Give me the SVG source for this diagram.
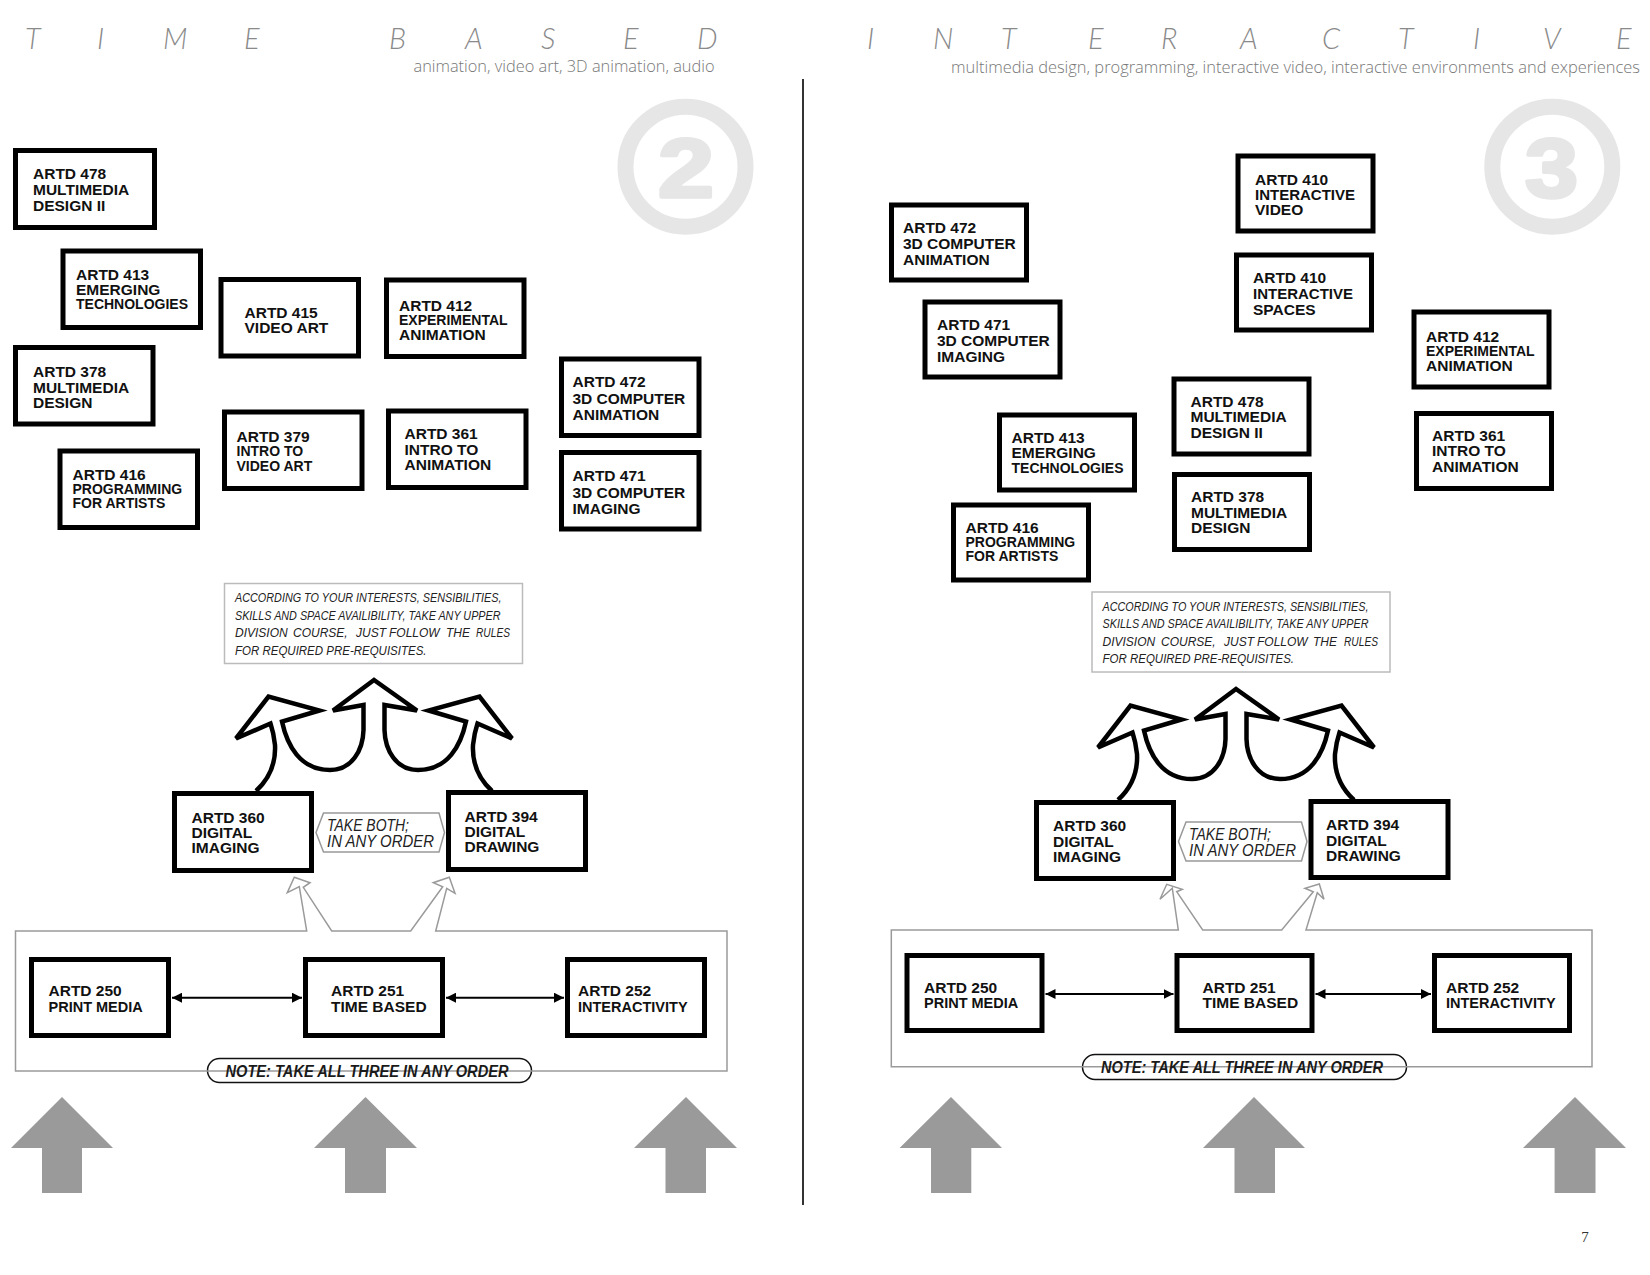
<svg xmlns="http://www.w3.org/2000/svg" width="1650" height="1275" viewBox="0 0 1650 1275">
<style>
.bx{fill:#fff;stroke:#000;stroke-width:5}
.bt{font-family:"Liberation Sans",Arial,sans-serif;font-weight:bold;font-size:15.5px;fill:#111}
.sm{font-size:14px}
.md{font-size:14.5px}
.ttl{font-family:Lato,"Open Sans","Liberation Sans",sans-serif;font-weight:300;font-style:italic;font-size:29px;fill:#8a8a8a}
.sub{font-family:"Open Sans",Lato,"Liberation Sans",sans-serif;font-weight:300;font-size:16px;fill:#777}
.ring{fill:none;stroke:#e6e6e6;stroke-width:16}
.num{font-family:"Liberation Sans",Arial,sans-serif;font-weight:bold;font-size:84px;fill:#e6e6e6;stroke:#e6e6e6;stroke-width:3.5;stroke-linejoin:round}
.nb{fill:#fff;stroke:#bbb;stroke-width:1.5}
.nt{font-family:"Liberation Sans",Arial,sans-serif;font-style:italic;font-size:12px;fill:#222}
.hx{fill:#fff;stroke:#999;stroke-width:1.5}
.ht{font-family:"Liberation Sans",Arial,sans-serif;font-style:italic;font-size:17px;fill:#222}
.pl{fill:#fff;stroke:#111;stroke-width:1.5}
.pt{font-family:"Liberation Sans",Arial,sans-serif;font-style:italic;font-weight:bold;font-size:16px;fill:#1a1a1a}
.ct{fill:none;stroke:#9a9a9a;stroke-width:1.5}
.tree{fill:#fff;stroke:#000;stroke-width:4.5;stroke-linejoin:miter}
.dbl{stroke:#000;stroke-width:2;marker-start:url(#ah);marker-end:url(#ah)}
.ga{fill:#9a9a9a}
</style>
<defs>
<marker id="ah" viewBox="0 0 10 10" refX="10" refY="5" markerWidth="10" markerHeight="10" markerUnits="userSpaceOnUse" orient="auto-start-reverse">
<path d="M0,0 L10,5 L0,10 Z" fill="#000"/>
</marker>
<path id="treeShape" d="M256,791 C268,780 276,765 275,745 C274,735 272,728 270.5,723.5 L236,738.5 L268.5,696.5 L319.5,710.5 L282,721.5 C287,745 300,770 330,770 C352,770 363,750 363.5,730 L363.5,705 L333,710.5 L374,680 L417,710.5 L384.5,705 L384.5,730 C385,750 396,770 418,770 C448,770 461,745 466,721.5 L428.5,710.5 L479.5,696.5 L512,738.5 L477.5,723.5 C476,728 474,735 473,745 C472,765 480,780 492,791"/>
</defs>
<rect width="1650" height="1275" fill="#fff"/>

<g id="headers">
<text class="ttl" x="25 60 97 130 163 205 244 316 389 427 465 503 541 582 623 660 697" y="48.5">T I M E B A S E D</text>
<text class="sub" x="413.5" y="72" textLength="301" lengthAdjust="spacingAndGlyphs">animation, video art, 3D animation, audio</text>
<text class="ttl" x="867 900 933 967 1001 1045 1088 1125 1161 1200 1240 1280 1322 1360 1398 1435 1473 1508 1543 1580 1616" y="48.5">I N T E R A C T I V E</text>
<text class="sub" x="951" y="73" textLength="689" lengthAdjust="spacingAndGlyphs">multimedia design, programming, interactive video, interactive environments and experiences</text>
<line x1="803" y1="79" x2="803" y2="1205" stroke="#333" stroke-width="2"/>
<circle class="ring" cx="685.5" cy="166.7" r="60"/>
<text class="num" x="658" y="196.7" textLength="56" lengthAdjust="spacingAndGlyphs">2</text>
<circle class="ring" cx="1552.3" cy="166.7" r="60"/>
<text class="num" x="1525" y="196.7" textLength="53" lengthAdjust="spacingAndGlyphs">3</text>
<text x="1585" y="1241.5" font-family="'Liberation Serif','Times New Roman',serif" font-size="15" fill="#333" text-anchor="middle">7</text>
</g>

<g id="connectors">
<use href="#treeShape" class="tree"/>
<use href="#treeShape" class="tree" transform="translate(862,9)"/>
<line class="dbl" x1="172" y1="997.7" x2="302" y2="997.7"/>
<line class="dbl" x1="446" y1="997.7" x2="564" y2="997.7"/>
<line class="dbl" x1="1045.5" y1="994" x2="1173.5" y2="994"/>
<line class="dbl" x1="1315.5" y1="994" x2="1431" y2="994"/>
<polygon class="ga" points="62,1097 113,1148 82,1148 82,1193 42,1193 42,1148 11,1148"/>
<polygon class="ga" points="365.5,1097 417,1148 386,1148 386,1193 345,1193 345,1148 314,1148"/>
<polygon class="ga" points="686,1097 737,1148 706,1148 706,1193 665.5,1193 665.5,1148 634,1148"/>
<polygon class="ga" points="951,1097 1002,1148 971.3,1148 971.3,1193 931,1193 931,1148 899.6,1148"/>
<polygon class="ga" points="1254,1097 1305,1148 1275,1148 1275,1193 1234.5,1193 1234.5,1148 1203,1148"/>
<polygon class="ga" points="1575,1097 1626,1148 1595.5,1148 1595.5,1193 1554.6,1193 1554.6,1148 1523,1148"/>
</g>

<g id="tb-note">
<rect class="nb" x="224.5" y="583.5" width="298" height="80"/>
<text class="nt"><tspan x="235" y="602" textLength="266.5" lengthAdjust="spacingAndGlyphs">ACCORDING TO YOUR INTERESTS, SENSIBILITIES,</tspan><tspan x="235" y="619.5" textLength="265.5" lengthAdjust="spacingAndGlyphs">SKILLS AND SPACE AVAILIBILITY, TAKE ANY UPPER</tspan><tspan x="235" y="637">DIVISION</tspan><tspan x="293" y="637">COURSE,</tspan><tspan x="356" y="637">JUST</tspan><tspan x="389" y="637">FOLLOW</tspan><tspan x="446" y="637">THE</tspan><tspan x="476" y="637" textLength="34" lengthAdjust="spacingAndGlyphs">RULES</tspan><tspan x="235" y="654.5" textLength="191.5" lengthAdjust="spacingAndGlyphs">FOR REQUIRED PRE-REQUISITES.</tspan></text>
</g>
<g id="ia-note">
<rect class="nb" x="1092" y="592" width="298" height="80"/>
<text class="nt"><tspan x="1102.5" y="610.5" textLength="266" lengthAdjust="spacingAndGlyphs">ACCORDING TO YOUR INTERESTS, SENSIBILITIES,</tspan><tspan x="1102.5" y="628" textLength="266" lengthAdjust="spacingAndGlyphs">SKILLS AND SPACE AVAILIBILITY, TAKE ANY UPPER</tspan><tspan x="1102.5" y="645.5">DIVISION</tspan><tspan x="1161" y="645.5">COURSE,</tspan><tspan x="1224" y="645.5">JUST</tspan><tspan x="1257" y="645.5">FOLLOW</tspan><tspan x="1313" y="645.5">THE</tspan><tspan x="1344" y="645.5" textLength="34" lengthAdjust="spacingAndGlyphs">RULES</tspan><tspan x="1102.5" y="663" textLength="191.5" lengthAdjust="spacingAndGlyphs">FOR REQUIRED PRE-REQUISITES.</tspan></text>
</g>

<g id="tb-foundation">
<rect class="pl" x="207.5" y="1058.5" width="324" height="24" rx="12"/>
<path class="ct" d="M15.5,931 L306.7,931 L299.3,886.7 L287.3,892.7 L294.3,877.3 L310,882.7 L303.3,887.3 L331.7,931 L410.7,931 L442.7,886.7 L433.3,882.7 L449.3,877.3 L455,893.3 L446.7,888.3 L435.7,931 L727,931 L727,1071 L15.5,1071 Z"/>
<text class="pt" x="225.5" y="1076.5" textLength="283" lengthAdjust="spacingAndGlyphs">NOTE: TAKE ALL THREE IN ANY ORDER</text>
</g>
<g id="ia-foundation">
<rect class="pl" x="1082.5" y="1054.5" width="324" height="25" rx="12.5"/>
<path class="ct" d="M891.3,930 L1178.3,930 L1172.3,888.3 L1160,899.3 L1166.7,884.3 L1182.3,889.3 L1176.7,891.7 L1202.7,930 L1281.7,930 L1313.3,891.7 L1305,888.3 L1319.3,884 L1324,899.3 L1317.3,892.7 L1306,930 L1592,930 L1592,1066.7 L891.3,1066.7 Z"/>
<text class="pt" x="1101" y="1073" textLength="282" lengthAdjust="spacingAndGlyphs">NOTE: TAKE ALL THREE IN ANY ORDER</text>
</g>

<g id="tb-takeboth">
<polygon class="hx" points="316,832.5 323.5,813 439,813 444.5,832.5 439,852 323.5,852"/>
<text class="ht"><tspan x="327" y="830.5" textLength="82" lengthAdjust="spacingAndGlyphs">TAKE BOTH;</tspan><tspan x="327" y="846.5" textLength="107" lengthAdjust="spacingAndGlyphs">IN ANY ORDER</tspan></text>
</g>
<g id="ia-takeboth">
<polygon class="hx" points="1178.5,841.5 1186,822 1301.5,822 1307,841.5 1301.5,861 1186,861"/>
<text class="ht"><tspan x="1189" y="839.5" textLength="82" lengthAdjust="spacingAndGlyphs">TAKE BOTH;</tspan><tspan x="1189" y="855.5" textLength="107" lengthAdjust="spacingAndGlyphs">IN ANY ORDER</tspan></text>
</g>

<!-- TIME BASED page nodes -->
<g id="tb-artd478"><rect class="bx" x="15.5" y="150.5" width="139" height="77"/><text class="bt"><tspan x="33" y="179">ARTD 478</tspan><tspan x="33" y="195">MULTIMEDIA</tspan><tspan x="33" y="211">DESIGN II</tspan></text></g>
<g id="tb-artd413"><rect class="bx" x="63" y="251" width="137.5" height="76.5"/><text class="bt"><tspan x="76" y="280">ARTD 413</tspan><tspan x="76" y="295">EMERGING</tspan><tspan class="sm" x="76" y="309">TECHNOLOGIES</tspan></text></g>
<g id="tb-artd415"><rect class="bx" x="221" y="279.5" width="137.5" height="76.5"/><text class="bt"><tspan x="244.5" y="317.5">ARTD 415</tspan><tspan x="244.5" y="332.5">VIDEO ART</tspan></text></g>
<g id="tb-artd412"><rect class="bx" x="386.5" y="280" width="137.5" height="76.5"/><text class="bt"><tspan x="399" y="311">ARTD 412</tspan><tspan class="sm" x="399" y="325">EXPERIMENTAL</tspan><tspan x="399" y="340">ANIMATION</tspan></text></g>
<g id="tb-artd378"><rect class="bx" x="15.5" y="347.5" width="137.5" height="76.5"/><text class="bt"><tspan x="33" y="376.5">ARTD 378</tspan><tspan x="33" y="392.5">MULTIMEDIA</tspan><tspan x="33" y="408">DESIGN</tspan></text></g>
<g id="tb-artd472"><rect class="bx" x="561.5" y="359" width="137.5" height="76.5"/><text class="bt"><tspan x="572.5" y="387">ARTD 472</tspan><tspan x="572.5" y="403.5">3D COMPUTER</tspan><tspan x="572.5" y="420">ANIMATION</tspan></text></g>
<g id="tb-artd379"><rect class="bx" x="224.5" y="412" width="137.5" height="76.5"/><text class="bt"><tspan x="236.5" y="441.5">ARTD 379</tspan><tspan class="sm" x="236.5" y="456">INTRO TO</tspan><tspan class="sm" x="236.5" y="470.5">VIDEO ART</tspan></text></g>
<g id="tb-artd361"><rect class="bx" x="388.5" y="411" width="137.5" height="76.5"/><text class="bt"><tspan x="404.5" y="439">ARTD 361</tspan><tspan x="404.5" y="455">INTRO TO</tspan><tspan x="404.5" y="470">ANIMATION</tspan></text></g>
<g id="tb-artd416"><rect class="bx" x="60" y="451" width="137.5" height="76.5"/><text class="bt"><tspan x="72.5" y="479.5">ARTD 416</tspan><tspan class="sm" x="72.5" y="494">PROGRAMMING</tspan><tspan class="sm" x="72.5" y="508">FOR ARTISTS</tspan></text></g>
<g id="tb-artd471"><rect class="bx" x="561.5" y="452.5" width="137.5" height="76.5"/><text class="bt"><tspan x="572.5" y="481">ARTD 471</tspan><tspan x="572.5" y="497.5">3D COMPUTER</tspan><tspan x="572.5" y="513.5">IMAGING</tspan></text></g>
<g id="tb-artd360"><rect class="bx" x="174.5" y="793.5" width="137" height="77"/><text class="bt"><tspan x="191.5" y="822.5">ARTD 360</tspan><tspan x="191.5" y="838">DIGITAL</tspan><tspan x="191.5" y="853">IMAGING</tspan></text></g>
<g id="tb-artd394"><rect class="bx" x="448.5" y="792.5" width="137" height="77"/><text class="bt"><tspan x="464.5" y="821.5">ARTD 394</tspan><tspan x="464.5" y="837">DIGITAL</tspan><tspan x="464.5" y="852">DRAWING</tspan></text></g>
<g id="tb-artd250"><rect class="bx" x="31.5" y="959.5" width="137" height="76"/><text class="bt"><tspan x="48.5" y="996">ARTD 250</tspan><tspan class="md" x="48.5" y="1012">PRINT MEDIA</tspan></text></g>
<g id="tb-artd251"><rect class="bx" x="305.5" y="959.5" width="137" height="76"/><text class="bt"><tspan x="331" y="996">ARTD 251</tspan><tspan x="331" y="1012">TIME BASED</tspan></text></g>
<g id="tb-artd252"><rect class="bx" x="567.5" y="959.5" width="137" height="76"/><text class="bt"><tspan x="578" y="996">ARTD 252</tspan><tspan class="md" x="578" y="1012">INTERACTIVITY</tspan></text></g>

<!-- INTERACTIVE page nodes -->
<g id="ia-artd472"><rect class="bx" x="891.5" y="205" width="135" height="75"/><text class="bt"><tspan x="903" y="233">ARTD 472</tspan><tspan x="903" y="249">3D COMPUTER</tspan><tspan x="903" y="265">ANIMATION</tspan></text></g>
<g id="ia-artd410v"><rect class="bx" x="1238" y="156" width="135" height="75"/><text class="bt"><tspan x="1255" y="184.5">ARTD 410</tspan><tspan x="1255" y="199.5" font-size="15">INTERACTIVE</tspan><tspan x="1255" y="215">VIDEO</tspan></text></g>
<g id="ia-artd471"><rect class="bx" x="925" y="302" width="135" height="75"/><text class="bt"><tspan x="937" y="329.5">ARTD 471</tspan><tspan x="937" y="345.5">3D COMPUTER</tspan><tspan x="937" y="361.5">IMAGING</tspan></text></g>
<g id="ia-artd410s"><rect class="bx" x="1236.5" y="255" width="135" height="75"/><text class="bt"><tspan x="1253" y="283">ARTD 410</tspan><tspan x="1253" y="299" font-size="15">INTERACTIVE</tspan><tspan x="1253" y="314.5">SPACES</tspan></text></g>
<g id="ia-artd412"><rect class="bx" x="1414" y="312" width="135" height="75"/><text class="bt"><tspan x="1426" y="342">ARTD 412</tspan><tspan class="sm" x="1426" y="356">EXPERIMENTAL</tspan><tspan x="1426" y="371">ANIMATION</tspan></text></g>
<g id="ia-artd478"><rect class="bx" x="1174" y="379" width="135" height="75"/><text class="bt"><tspan x="1190.5" y="407">ARTD 478</tspan><tspan x="1190.5" y="422">MULTIMEDIA</tspan><tspan x="1190.5" y="438">DESIGN II</tspan></text></g>
<g id="ia-artd413"><rect class="bx" x="999.5" y="415" width="135" height="75"/><text class="bt"><tspan x="1011.5" y="443">ARTD 413</tspan><tspan x="1011.5" y="458">EMERGING</tspan><tspan class="sm" x="1011.5" y="472.5">TECHNOLOGIES</tspan></text></g>
<g id="ia-artd361"><rect class="bx" x="1416.5" y="413.5" width="135" height="75"/><text class="bt"><tspan x="1432" y="440.5">ARTD 361</tspan><tspan x="1432" y="455.5">INTRO TO</tspan><tspan x="1432" y="471.5">ANIMATION</tspan></text></g>
<g id="ia-artd378"><rect class="bx" x="1174.5" y="474.5" width="135" height="75"/><text class="bt"><tspan x="1191" y="502">ARTD 378</tspan><tspan x="1191" y="517.5">MULTIMEDIA</tspan><tspan x="1191" y="533">DESIGN</tspan></text></g>
<g id="ia-artd416"><rect class="bx" x="953.5" y="505" width="135" height="75"/><text class="bt"><tspan x="965.5" y="533">ARTD 416</tspan><tspan class="sm" x="965.5" y="547">PROGRAMMING</tspan><tspan class="sm" x="965.5" y="561">FOR ARTISTS</tspan></text></g>
<g id="ia-artd360"><rect class="bx" x="1036.5" y="802.5" width="137" height="76"/><text class="bt"><tspan x="1053" y="831">ARTD 360</tspan><tspan x="1053" y="846.5">DIGITAL</tspan><tspan x="1053" y="862">IMAGING</tspan></text></g>
<g id="ia-artd394"><rect class="bx" x="1311" y="801.5" width="137" height="76"/><text class="bt"><tspan x="1326" y="830">ARTD 394</tspan><tspan x="1326" y="845.5">DIGITAL</tspan><tspan x="1326" y="861">DRAWING</tspan></text></g>
<g id="ia-artd250"><rect class="bx" x="907" y="955.5" width="135" height="75"/><text class="bt"><tspan x="924" y="992.5">ARTD 250</tspan><tspan class="md" x="924" y="1007.5">PRINT MEDIA</tspan></text></g>
<g id="ia-artd251"><rect class="bx" x="1177" y="955.5" width="135" height="75"/><text class="bt"><tspan x="1202.5" y="992.5">ARTD 251</tspan><tspan x="1202.5" y="1007.5">TIME BASED</tspan></text></g>
<g id="ia-artd252"><rect class="bx" x="1434.5" y="955.5" width="135" height="75"/><text class="bt"><tspan x="1446" y="992.5">ARTD 252</tspan><tspan class="md" x="1446" y="1007.5">INTERACTIVITY</tspan></text></g>
</svg>
